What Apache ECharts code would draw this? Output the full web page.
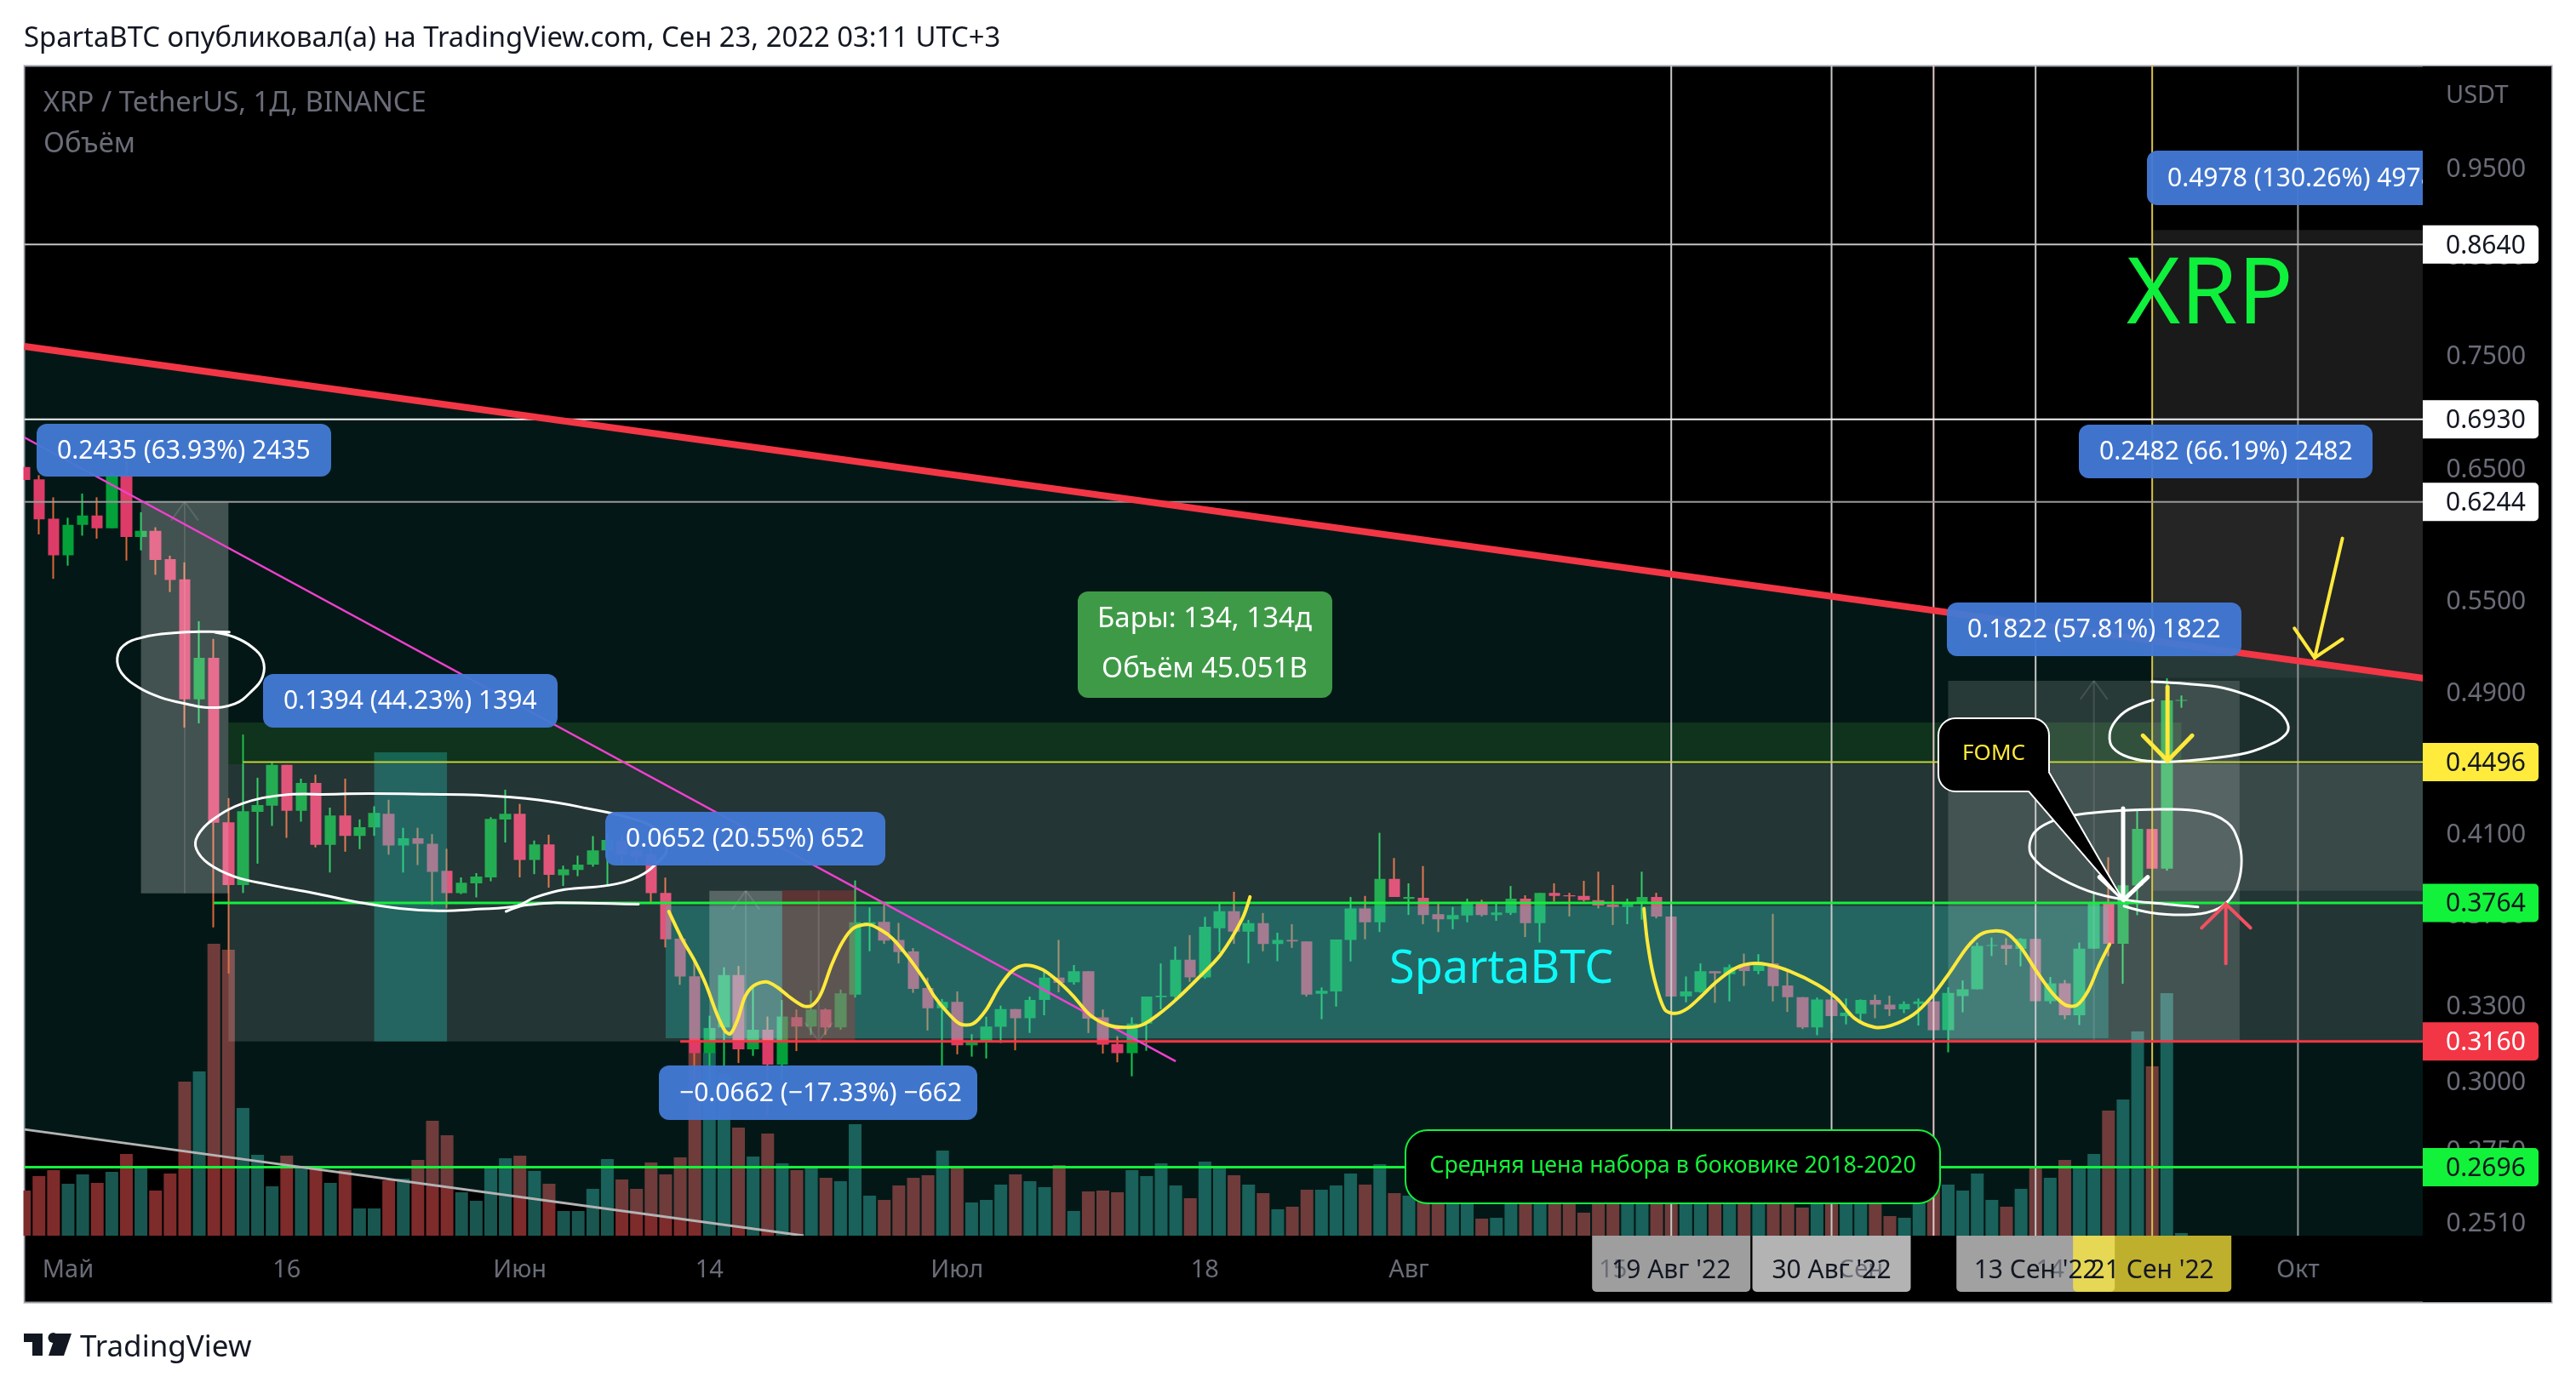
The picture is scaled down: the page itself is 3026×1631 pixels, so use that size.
<!DOCTYPE html>
<html>
<head>
<meta charset="utf-8">
<title>XRP / TetherUS</title>
<script src="https://cdn.jsdelivr.net/npm/echarts@6/dist/echarts.min.js"></script>
<style>
    html, body { margin: 0; padding: 0; background: #fff; }
    #chart { width: 3026px; height: 1631px; }
</style>
</head>
<body>
<div id="chart"></div>
<script>
// daily candles, first one is 28 Apr 2022
var firstDay = new Date(Date.UTC(2022, 3, 28));
var dayCount = 166;

var opens = [
    .6525, .6424, .6112, .5837, .6066, .6138, .6039, .6458, .5973, .6020,
    .5808, .5662, .4867, .5128, .4167, .3850, .4222, .4255, .4480, .4228,
    .4379, .4050, .4203, .4096, .4140, .4212, .4047, .4084, .4055, .3919,
    .3811, .3858, .3887, .4182, .4212, .3974, .4052, .3897, .3924, .3950,
    .4022, .4073, .4022, .4000, .3812, .3598, .3431, .3114, .3217, .3436,
    .3129, .3207, .3069, .3258, .3220, .3290, .3217, .3352, .3664, .3675,
    .3592, .3540, .3380, .3295, .3322, .3145, .3163, .3219, .3292, .3254,
    .3330, .3425, .3405, .3453, .3257, .3150, .3114, .3232, .3342, .3344,
    .3503, .3426, .3645, .3725, .3630, .3669, .3574, .3592, .3585, .3356,
    .3366, .3592, .3738, .3673, .3880, .3783, .3788, .3711, .3687, .3705,
    .3761, .3707, .3717, .3784, .3669, .3812, .3800, .3797, .3777, .3756,
    .3745, .3764, .3792, .3700, .3345, .3363, .3453, .3440, .3482, .3454,
    .3487, .3391, .3342, .3217, .3332, .3263, .3272, .3330, .3310, .3291,
    .3313, .3324, .3205, .3346, .3375, .3565, .3569, .3552, .3597, .3325,
    .3400, .3266, .3553, .3766, .3575, .3847, .4132, .3930, .4858
];
var closes = [
    .6419, .6108, .5837, .6066, .6138, .6039, .6458, .5973, .6020, .5803,
    .5657, .4867, .5128, .4165, .3850, .4226, .4259, .4480, .4228, .4379,
    .4050, .4203, .4096, .4141, .4217, .4047, .4084, .4055, .3914, .3811,
    .3861, .3891, .4185, .4212, .3974, .4052, .3899, .3927, .3950, .4022,
    .4075, .4000, .3990, .3811, .3595, .3430, .3114, .3214, .3436, .3129,
    .3207, .3069, .3261, .3220, .3290, .3217, .3358, .3673, .3673, .3589,
    .3537, .3377, .3295, .3322, .3145, .3163, .3220, .3292, .3254, .3330,
    .3425, .3402, .3453, .3252, .3147, .3114, .3232, .3344, .3348, .3503,
    .3426, .3652, .3725, .3630, .3669, .3574, .3592, .3585, .3352, .3369,
    .3594, .3738, .3673, .3880, .3792, .3792, .3707, .3687, .3707, .3761,
    .3707, .3719, .3784, .3669, .3812, .3797, .3795, .3777, .3752, .3745,
    .3764, .3792, .3700, .3344, .3366, .3453, .3444, .3471, .3454, .3482,
    .3389, .3342, .3217, .3332, .3263, .3277, .3330, .3310, .3291, .3313,
    .3324, .3205, .3360, .3375, .3565, .3569, .3552, .3597, .3325, .3400,
    .3266, .3553, .3766, .3575, .3849, .4132, .3930, .4860, .4863
];
var highs = [
    .6580, .6458, .6280, .6120, .6309, .6280, .6497, .6580, .6163, .6047,
    .5834, .5785, .5371, .5252, .4296, .4655, .4408, .4497, .4480, .4403,
    .4425, .4245, .4403, .4182, .4252, .4287, .4138, .4138, .4105, .4030,
    .3887, .3908, .4194, .4342, .4265, .4072, .4102, .3945, .3995, .4095,
    .4110, .4095, .4090, .4085, .3886, .3610, .3507, .3264, .3470, .3476,
    .3391, .3261, .3330, .3290, .3370, .3294, .3374, .3872, .3742, .3761,
    .3670, .3555, .3425, .3334, .3366, .3189, .3260, .3306, .3292, .3344,
    .3460, .3592, .3480, .3453, .3290, .3181, .3258, .3344, .3487, .3562,
    .3614, .3698, .3761, .3817, .3684, .3716, .3625, .3664, .3585, .3383,
    .3594, .3792, .3797, .4112, .3983, .3858, .3943, .3768, .3745, .3784,
    .3779, .3768, .3845, .3800, .3812, .3858, .3812, .3870, .3915, .3850,
    .3784, .3915, .3812, .3700, .3430, .3487, .3453, .3482, .3530, .3528,
    .3712, .3453, .3342, .3340, .3332, .3336, .3332, .3352, .3348, .3324,
    .3336, .3324, .3384, .3413, .3580, .3603, .3600, .3600, .3597, .3428,
    .3415, .3580, .3810, .3987, .3870, .4230, .4132, .4998, .4890
];
var lows = [
    .6326, .5993, .5666, .5761, .5983, .5961, .6039, .5798, .5873, .5695,
    .5572, .4696, .4721, .3649, .3443, .3811, .3955, .4148, .4086, .4170,
    .4037, .3911, .4015, .4028, .4096, .4000, .3911, .3948, .3755, .3738,
    .3806, .3790, .3868, .4062, .3887, .3903, .3837, .3845, .3893, .3940,
    .3842, .3950, .3960, .3764, .3558, .3394, .3015, .2990, .3063, .3075,
    .3103, .2880, .3012, .3122, .3186, .3186, .3207, .3340, .3541, .3574,
    .3487, .3360, .3204, .3063, .3109, .3100, .3093, .3154, .3125, .3194,
    .3266, .3362, .3395, .3194, .3112, .3078, .3024, .3123, .3291, .3330,
    .3407, .3420, .3537, .3574, .3487, .3541, .3497, .3556, .3344, .3250,
    .3302, .3496, .3595, .3628, .3792, .3707, .3664, .3628, .3641, .3673,
    .3700, .3680, .3707, .3605, .3580, .3770, .3700, .3770, .3738, .3660,
    .3664, .3685, .3691, .3344, .3320, .3360, .3318, .3324, .3389, .3440,
    .3324, .3280, .3210, .3185, .3194, .3229, .3232, .3254, .3263, .3275,
    .3224, .3205, .3117, .3278, .3375, .3520, .3480, .3474, .3325, .3314,
    .3250, .3226, .3553, .3519, .3399, .3706, .3930, .3920, .4815
];
var volumes = [
    53, 70, 77, 61, 72, 62, 75, 96, 79, 53,
    73, 181, 193, 343, 336, 150, 95, 58, 94, 80,
    79, 62, 77, 32, 32, 65, 67, 89, 135, 118,
    51, 41, 80, 91, 94, 76, 61, 29, 29, 55,
    90, 66, 55, 86, 72, 92, 230, 215, 190, 127,
    93, 120, 85, 77, 82, 68, 64, 131, 47, 42,
    59, 68, 71, 100, 79, 39, 42, 60, 72, 64,
    57, 83, 29, 52, 53, 51, 77, 70, 85, 59,
    44, 87, 80, 71, 60, 50, 31, 34, 54, 54,
    59, 73, 60, 84, 50, 47, 55, 60, 65, 50,
    20, 21, 48, 50, 45, 55, 60, 27, 42, 45,
    50, 46, 58, 95, 60, 50, 40, 45, 50, 40,
    55, 55, 33, 50, 45, 60, 55, 42, 23, 21,
    41, 54, 60, 53, 73, 42, 34, 55, 81, 68,
    89, 82, 96, 147, 160, 240, 199, 285, 3
];

var priceTicks = [.95, .85, .75, .65, .55, .49, .41, .37, .33, .30, .275, .251];
var priceMin = .2473, priceMax = 1.083;
var volumeMax = 1375;

// time axis: positions are days after 28 Apr
var timeTickDays = [3, 18, 34, 47, 64, 81, 95, 109, 126, 139, 156];
var timeTickLabels = ['Май', '16', 'Июн', '14', 'Июл', '18', 'Авг', '15', 'Сен', '14', 'Окт'];
var dimTickLabels = ['15', 'Сен', '14'];

// horizontal levels
var levelPrices = [.8640, .6930, .6244, .4496, .3764, .3160, .2696];
var levelStart = [0, 0, 0, 15, 13, 45, 0];
var levelLineColors = ['#c4c4c4', '#f2f2f2', '#9a9a9a', '#c9cf45', '#14f03c', '#f23645', '#14f03c'];
var levelLineWidths = [2, 2, 2, 2, 3, 3, 3];
var levelTagFills = ['#fff', '#fff', '#fff', '#ffeb3b', '#12f23a', '#f23645', '#12f23a'];
var levelTagText = ['#131722', '#131722', '#131722', '#131722', '#131722', '#fff', '#131722'];

// vertical markers: 19 Aug, 30 Aug, 6 Sep, 13 Sep, 21 Sep, 1 Oct
var markerDays = [113, 124, 131, 138, 146, 156];
var markerColors = ['#c8c8c8', '#c8c8c8', '#e6c8c8', '#c8c8c8', '#d8c24a', '#8f9494'];

// crosshair date tags on the time axis
var dateTagDays = [113, 124, 138, 146];
var dateTagLabels = ["19 Авг '22", "30 Авг '22", "13 Сен '22", "21 Сен '22"];
var dateTagFills = ['#9e9e9e', '#b3b3b3', '#a1a1a1', 'rgba(253,233,60,.75)'];

// channel between the red and the grey trend line: day, price
var channelPoints = [[0, .7598], [165, .4993], [165, .2473], [53.47, .2473], [0, .2828]];

// trend lines: day, price, day, price
var trendLines = [
    [0, .7598, 165, .4993],
    [0, .2828, 53.47, .2473],
    [0, .6773, 79, .3082]
];
var trendColors = ['#f23645', '#b4b4b4', '#f040d0'];
var trendWidths = [8, 3, 2.5];

// price range boxes: day from, day to, price top, price bottom
var boxes = [
    [14, 165, .4484, .3160],
    [14, 148, .4726, .4484],
    [146, 165, .8800, .3822],
    [146, 165, .6244, .5000],
    [8, 14, .6244, .3809],
    [24, 29, .4552, .3160],
    [44, 143, .3750, .3173],
    [47, 52, .3822, .3160],
    [52, 57, .3824, .3160],
    [132, 152, .4982, .3160]
];
var boxFills = [
    'rgba(255,255,255,.13)', 'rgba(60,150,50,.22)', 'rgba(255,255,255,.1)', 'rgba(255,255,255,.05)',
    'rgba(255,255,255,.25)', 'rgba(38,200,190,.33)', 'rgba(38,200,190,.33)',
    'rgba(255,255,255,.24)', 'rgba(225,50,50,.3)', 'rgba(255,255,255,.15)'
];

// arrows inside the range boxes: day, top, bottom, head at top (1) or bottom (0)
var rangeArrows = [
    [11, .6244, .3809, 1],
    [49.5, .3822, .3160, 1],
    [54.5, .3824, .3160, 0],
    [142, .4982, .3160, 1]
];

// freehand drawings, noted in the crops they were read from
function crop(x0, y0, sx, sy, pts) {
    return pts.map(function (p) { return [x0 + p[0] / sx, y0 + p[1] / sy]; });
}
function cropA(pts) { return crop(0, 500, 1.96, 2.613, pts); }
function cropB(pts) { return crop(750, 900, 1.96, 2.613, pts); }
function cropC(pts) { return crop(1500, 900, 1.96, 2.613, pts); }
function cropD(pts) { return crop(2200, 700, 1.898, 1.96, pts); }

var YELLOW = '#ffe93b', WHITE = '#fff', RED_PEN = '#f25060';
var pen = [
    { c: YELLOW, w: 4, s: .3, p: cropB([[70,447],[100,530],[130,600],[155,670],[180,760],[200,815],[212,822],[228,780],[245,710],[265,675],[295,663],[320,680],[350,712],[380,737],[400,735],[420,700],[445,610],[470,540],[495,498],[530,487],[560,505],[585,530],[620,585],[660,660],[680,705],[710,755],[740,792],[770,792],[800,750],[830,680],[860,630],[890,612],[930,625],[965,660],[1000,705],[1040,765],[1080,795],[1120,803],[1160,795],[1200,760],[1240,715],[1290,650],[1340,580],[1390,470],[1408,402]]) },
    { c: YELLOW, w: 4, s: .3, p: cropC([[845,438],[853,540],[868,650],[893,748],[917,760],[945,745],[975,710],[1010,665],[1050,625],[1085,608],[1130,610],[1180,630],[1245,672],[1290,715],[1330,775],[1375,802]]).concat(cropD([[40,990],[90,965],[130,925],[170,870],[210,810],[240,780],[270,772],[300,778],[330,810],[365,865],[400,915],[430,943],[455,943],[480,910],[505,850],[528,803]])) },
    { c: WHITE, w: 3, s: .4, p: cropA([[528,634],[470,633],[400,637],[330,650],[285,675],[270,715],[280,760],[320,805],[370,835],[430,855],[480,866],[540,855],[580,815],[605,770],[605,720],[580,680],[540,650],[495,635]]) },
    { c: WHITE, w: 3, s: .4, p: cropA([[740,1133],[650,1135],[560,1160],[490,1210],[455,1260],[452,1300],[480,1345],[540,1385],[620,1410],[720,1435],[830,1465],[920,1483],[1010,1490],[1100,1485],[1190,1475],[1230,1450],[1300,1425],[1400,1412],[1470,1385],[1515,1340],[1535,1300],[1510,1240],[1450,1205],[1350,1175],[1240,1150],[1100,1135],[990,1132],[850,1130],[740,1133]]) },
    { c: WHITE, w: 3, s: .2, p: cropA([[1165,1492],[1200,1475],[1280,1465],[1470,1470]]) },
    { c: WHITE, w: 3, s: .4, p: cropD([[625,240],[570,262],[540,290],[528,320],[535,350],[570,372],[630,382],[700,380],[820,365],[880,345],[920,320],[925,295],[900,262],[850,235],[780,212],[700,203],[622,198]]) },
    { c: WHITE, w: 3, s: .4, p: cropD([[725,717],[650,710],[560,700],[480,680],[400,640],[355,600],[350,570],[365,540],[410,515],[450,505],[550,495],[650,492],[730,497],[790,522],[815,565],[822,610],[815,660],[795,700],[760,725],[700,735],[620,730],[560,715]]) },
    { c: YELLOW, w: 5, s: 0, p: cropD([[657,210],[657,380]]) },
    { c: YELLOW, w: 5, s: 0, p: cropD([[602,322],[657,380],[712,322]]) },
    { c: YELLOW, w: 4, s: 0, p: [[2751.6, 632.6], [2719, 773]] },
    { c: YELLOW, w: 4, s: 0, p: cropD([[940,75],[985,143],[1047,100]]) },
    { c: WHITE, w: 5, s: 0, p: cropD([[558,490],[558,700]]) },
    { c: WHITE, w: 5, s: 0, p: cropD([[505,648],[560,700],[613,648]]) },
    { c: RED_PEN, w: 4, s: 0, p: cropD([[787,847],[787,710]]) },
    { c: RED_PEN, w: 4, s: 0, p: cropD([[733,765],[787,710],[842,765]]) }
];

var pills = [
    ['0.2435 (63.93%) 2435', 43, 389, 498, 560],
    ['0.1394 (44.23%) 1394', 309, 655, 792, 855],
    ['0.0652 (20.55%) 652', 711, 1040, 954, 1017],
    ['−0.0662 (−17.33%) −662', 774, 1148, 1252, 1316],
    ['0.1822 (57.81%) 1822', 2287, 2633, 708, 771],
    ['0.2482 (66.19%) 2482', 2442, 2787, 499, 562],
    ['0.4978 (130.26%) 4978', 2522, 2880, 177, 241]
];

var FONT = '"Noto Sans", sans-serif';
var AXIS_GREY = '#6a6d78';
var UP = '#02a02a', DOWN = '#ff2a60', UP_WICK = '#18cc48', DOWN_WICK = '#ff5a28';
var VOL_UP = '#1a5650', VOL_DOWN = '#7e2b2c';

var categories = [];
for (var k = 0; k < dayCount; k++) {
    categories.push(new Date(firstDay.getTime() + k * 864e5).toISOString().slice(0, 10));
}

var candleData = opens.map(function (o, i) { return [o, closes[i], lows[i], highs[i]]; });
var volumeData = volumes.map(function (v, i) {
    return { value: v, itemStyle: { color: closes[i] >= opens[i] ? VOL_UP : VOL_DOWN } };
});

function txt(x, y, text, size, fill, z, align, extra) {
    var style = {
        text: text, fill: fill, fontSize: size, fontFamily: FONT,
        align: align || 'left', textAlign: align || 'left',
        verticalAlign: 'middle', textVerticalAlign: 'middle'
    };
    for (var key in extra) { style[key] = extra[key]; }
    return { type: 'text', x: x, y: y, z: z, silent: true, style: style };
}

function buildGraphics() {
    var g = [];
    // page furniture
    g.push({ type: 'rect', z: -1, silent: true, shape: { x: 28.5, y: 77.5, width: 2969, height: 1453 },
        style: { fill: '#000', stroke: '#9a9ea8', lineWidth: 2 } });
    g.push({ type: 'rect', z: 28, silent: true, shape: { x: 0, y: 77, width: 27.5, height: 1454 }, style: { fill: '#fff' } });
    g.push({ type: 'rect', z: 30, silent: true, shape: { x: 2846, y: 78, width: 151, height: 1452 }, style: { fill: '#000' } });
    g.push(txt(28, 46, 'SpartaBTC опубликовал(а) на TradingView.com, Сен 23, 2022 03:11 UTC+3', 32.8, '#131722', 50));
    g.push(txt(51, 122, 'XRP / TetherUS, 1Д, BINANCE', 32.8, AXIS_GREY, 50));
    g.push(txt(51, 170, 'Объём', 32.8, AXIS_GREY, 50));
    g.push(txt(2873, 113, 'USDT', 29, AXIS_GREY, 50));

    // logo
    g.push({ type: 'polygon', z: 50, silent: true, shape: { points: [[28,1567],[50,1567],[50,1593],[38,1593],[38,1577],[28,1577]] }, style: { fill: '#131722' } });
    g.push({ type: 'circle', z: 50, silent: true, shape: { cx: 62.5, cy: 1572, r: 6 }, style: { fill: '#131722' } });
    g.push({ type: 'polygon', z: 50, silent: true, shape: { points: [[66,1567],[84,1567],[75,1593],[57,1593]] }, style: { fill: '#131722' } });
    g.push(txt(94, 1584, 'TradingView', 35, '#131722', 50));

    // annotations
    g.push(txt(2498, 349, 'XRP', 108, '#0ef03c', 18));
    g.push(txt(1632, 1140, 'SpartaBTC', 54, '#0ff8f8', 18));

    pen.forEach(function (d) {
        g.push({ type: 'polyline', z: 20, silent: true, shape: { points: d.p, smooth: d.s },
            style: { stroke: d.c, lineWidth: d.w, fill: null, lineCap: 'round' } });
    });

    pills.forEach(function (b) {
        g.push({ type: 'rect', z: 22, silent: true, shape: { x: b[1], y: b[3], width: b[2] - b[1], height: b[4] - b[3], r: 12 },
            style: { fill: 'rgba(67,121,212,.96)' } });
        g.push(txt(b[1] + 24, (b[3] + b[4]) / 2 + 1, b[0], 30, '#fff', 23));
    });

    g.push({ type: 'rect', z: 22, silent: true, shape: { x: 1266, y: 695, width: 299, height: 125, r: 12 }, style: { fill: '#3f9a48' } });
    g.push(txt(1415, 728, 'Бары: 134, 134д', 33, '#fff', 23, 'center'));
    g.push(txt(1415, 787, 'Объём 45.051B', 33, '#fff', 23, 'center'));

    g.push({ type: 'rect', z: 22, silent: true, shape: { x: 1651, y: 1328, width: 628, height: 86, r: 26 },
        style: { fill: '#000', stroke: '#14f03c', lineWidth: 2 } });
    g.push(txt(1965, 1370, 'Средняя цена набора в боковике 2018-2020', 26.8, '#14f03c', 23, 'center'));

    // FOMC callout
    g.push({ type: 'rect', z: 24, silent: true, shape: { x: 2277, y: 844, width: 130, height: 86, r: 20 },
        style: { fill: '#000', stroke: '#fff', lineWidth: 2 } });
    g.push({ type: 'polygon', z: 25, silent: true, shape: { points: cropD([[392,405],[560,705],[347,450],[330,420],[380,400]]) }, style: { fill: '#000' } });
    g.push({ type: 'polyline', z: 25, silent: true, shape: { points: cropD([[392,405],[560,705],[347,450]]) },
        style: { stroke: '#fff', lineWidth: 2, fill: null } });
    g.push(txt(2342, 886, 'FOMC', 26, YELLOW, 26, 'center'));
    return g;
}

function pxLine(a, b, color, width) {
    return { type: 'line', shape: { x1: a[0], y1: a[1], x2: b[0], y2: b[1] }, style: { stroke: color, lineWidth: width } };
}

var drawingAxes = { xAxisIndex: 1, yAxisIndex: 0, coordinateSystem: 'cartesian2d', silent: true, clip: true };
function drawing(name, z, data, render, encode, noClip) {
    var s = { type: 'custom', name: name, z: z, data: data, renderItem: render, encode: encode };
    for (var key in drawingAxes) { s[key] = drawingAxes[key]; }
    if (noClip) { s.clip = false; }
    return s;
}

var series = [
    {
        type: 'bar', name: 'Объём', xAxisIndex: 2, yAxisIndex: 1, z: 1,
        barWidth: 15, data: volumeData, silent: true
    },
    {
        // wicks keep their own colour, so they are a second thin candle series
        type: 'candlestick', name: 'Wicks', xAxisIndex: 0, yAxisIndex: 0, z: 2, silent: true,
        barWidth: 1, data: candleData,
        itemStyle: { color: UP_WICK, color0: DOWN_WICK, borderColor: UP_WICK, borderColor0: DOWN_WICK, borderWidth: 2 }
    },
    {
        type: 'candlestick', name: 'XRP', xAxisIndex: 0, yAxisIndex: 0, z: 3, silent: true,
        barWidth: 14, data: candleData,
        itemStyle: { color: UP, color0: DOWN, borderWidth: 0 }
    },
    drawing('Channel', 4, [[0, .5]], function (params, api) {
        return { type: 'polygon', shape: { points: channelPoints.map(function (p) { return api.coord(p); }) },
            style: { fill: 'rgba(21,168,154,.143)' } };
    }, { x: 0, y: 1 }),
    drawing('Boxes', 5, boxes, function (params, api) {
        var a = api.coord([api.value(0), api.value(2)]);
        var b = api.coord([api.value(1), api.value(3)]);
        return { type: 'rect', shape: { x: a[0], y: a[1], width: b[0] - a[0], height: b[1] - a[1] },
            style: { fill: boxFills[params.dataIndex] } };
    }, { x: [0, 1], y: [2, 3] }),
    drawing('Range arrows', 6, rangeArrows, function (params, api) {
        var a = api.coord([api.value(0), api.value(1)]);
        var b = api.coord([api.value(0), api.value(2)]);
        var tip = api.value(3) ? a : b, back = api.value(3) ? 22 : -22;
        var col = 'rgba(255,255,255,.12)';
        return { type: 'group', children: [
            pxLine(a, b, col, 2),
            pxLine(tip, [tip[0] - 16, tip[1] + back], col, 2),
            pxLine(tip, [tip[0] + 16, tip[1] + back], col, 2)
        ] };
    }, { x: 0, y: [1, 2] }),
    drawing('Markers', 7, markerDays.map(function (d) { return [d]; }), function (params, api) {
        return pxLine(api.coord([api.value(0), priceMax]), api.coord([api.value(0), priceMin]), markerColors[params.dataIndex], 2);
    }, { x: 0 }),
    drawing('Levels', 8, levelPrices.map(function (p, i) { return [levelStart[i], p]; }), function (params, api) {
        return pxLine(api.coord([api.value(0), api.value(1)]), api.coord([dayCount - 1, api.value(1)]),
            levelLineColors[params.dataIndex], levelLineWidths[params.dataIndex]);
    }, { x: 0, y: 1 }),
    drawing('Trend lines', 9, trendLines, function (params, api) {
        return pxLine(api.coord([api.value(0), api.value(1)]), api.coord([api.value(2), api.value(3)]),
            trendColors[params.dataIndex], trendWidths[params.dataIndex]);
    }, { x: [0, 2], y: [1, 3] }),
    drawing('Level tags', 45, levelPrices.map(function (p, i) { return [dayCount - 1, p]; }), function (params, api) {
        var i = params.dataIndex, y = api.coord([api.value(0), api.value(1)])[1];
        return { type: 'group', children: [
            { type: 'rect', shape: { x: 2846, y: y - 22.5, width: 136, height: 45, r: [0, 5, 5, 0] }, style: { fill: levelTagFills[i] } },
            { type: 'text', style: { x: 2873, y: y + 2, text: levelPrices[i].toFixed(4), fill: levelTagText[i], fontSize: 30, fontFamily: FONT, align: 'left', verticalAlign: 'middle' } }
        ] };
    }, { x: 0, y: 1 }, true),
    drawing('Date tags', 35, dateTagDays.map(function (d) { return [d]; }), function (params, api) {
        var p = api.coord([api.value(0), priceMin]);
        return { type: 'rect', shape: { x: p[0] - 93, y: p[1], width: 186, height: 66, r: [0, 0, 5, 5] }, style: { fill: dateTagFills[params.dataIndex] } };
    }, { x: 0 }, true),
    drawing('Date tag labels', 37, dateTagDays.map(function (d) { return [d]; }), function (params, api) {
        var p = api.coord([api.value(0), priceMin]);
        return { type: 'text', style: { x: p[0], y: p[1] + 41, text: dateTagLabels[params.dataIndex], fill: '#131722', fontSize: 30, fontFamily: FONT, align: 'center', verticalAlign: 'middle' } };
    }, { x: 0 }, true)
];

var option = {
    animation: false,
    backgroundColor: '#fff',
    grid: [
        { left: 28.64, top: 77, width: 2824.8, height: 1375 },
        { left: 28.64, top: 77, width: 2824.8, height: 1375 }
    ],
    xAxis: [
        { type: 'category', gridIndex: 0, data: categories, boundaryGap: false, show: false },
        { type: 'value', gridIndex: 0, min: 0, max: dayCount - 1, show: false },
        {
            type: 'category', gridIndex: 1, data: categories, boundaryGap: false, z: 36,
            axisLine: { show: false }, axisTick: { show: false }, splitLine: { show: false },
            axisLabel: {
                margin: 26, fontSize: 29, fontFamily: FONT,
                showMinLabel: true, showMaxLabel: true, hideOverlap: false,
                interval: function (index) { return timeTickDays.indexOf(index) >= 0; },
                formatter: function (value, index) { return timeTickLabels[timeTickDays.indexOf(index)]; },
                color: function (value, index) {
                    var label = timeTickLabels[timeTickDays.indexOf(index)];
                    return dimTickLabels.indexOf(label) >= 0 ? '#e8e8e8' : AXIS_GREY;
                }
            }
        }
    ],
    yAxis: [
        {
            type: 'log', gridIndex: 0, logBase: 10, min: priceMin, max: priceMax, position: 'right', z: 40,
            axisLine: { show: false }, axisTick: { show: false }, splitLine: { show: false }, minorTick: { show: false },
            axisLabel: {
                margin: 20, fontSize: 30, fontFamily: FONT, color: AXIS_GREY, padding: [4, 0, 0, 0],
                customValues: priceTicks, hideOverlap: false,
                formatter: function (value) { return Number(value).toFixed(4); }
            }
        },
        { type: 'value', gridIndex: 1, min: 0, max: volumeMax, show: false }
    ],
    series: series
};

var chart = echarts.init(document.getElementById('chart'));
option.graphic = buildGraphics();
chart.setOption(option);
</script>
</body>
</html>
